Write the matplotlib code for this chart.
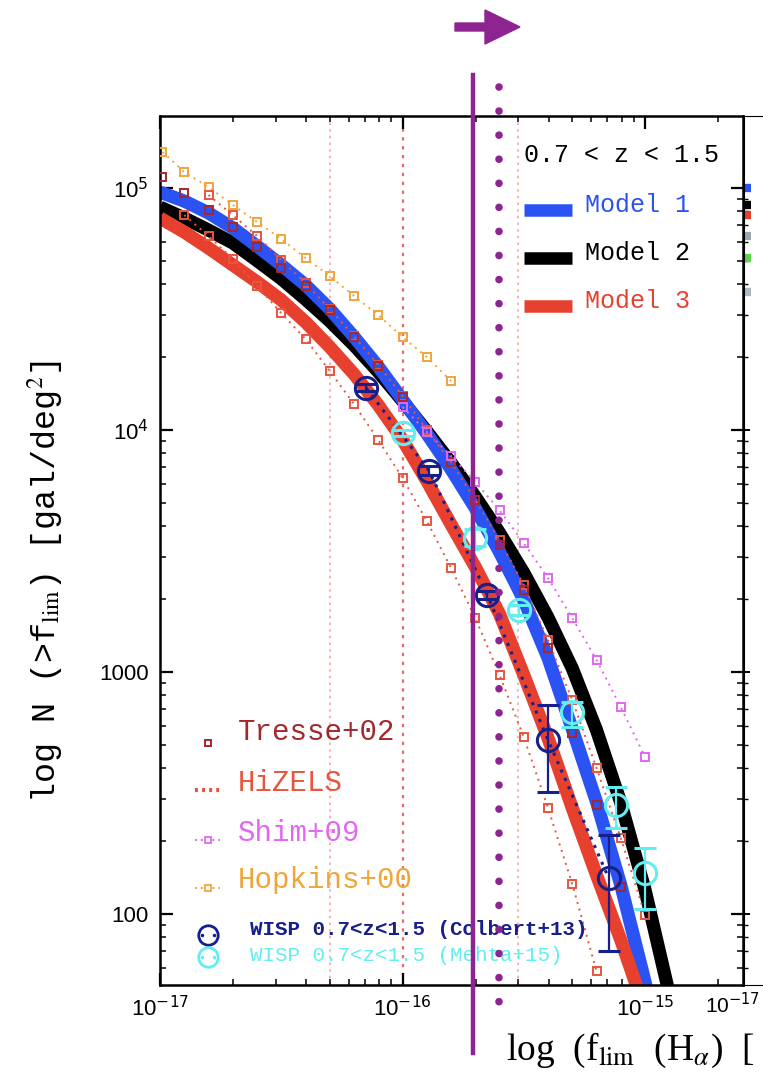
import numpy as np
import matplotlib
matplotlib.use("Agg")
import matplotlib.pyplot as plt
import matplotlib.patches as mpatches
from matplotlib.transforms import blended_transform_factory

plt.rcParams['font.family'] = ['Liberation Sans', 'DejaVu Sans']

# ---- data (log10 flux limit, log10 N(>f)) ----
model_logf = [-17.0, -16.9, -16.8, -16.7, -16.6, -16.5, -16.4, -16.3, -16.2, -16.1, -16.0,
              -15.9, -15.8, -15.7, -15.6, -15.5, -15.4, -15.3, -15.2, -15.1, -15.0, -14.9]
model1_logn = [4.983, 4.946, 4.897, 4.835, 4.760, 4.682, 4.599, 4.500, 4.385, 4.262, 4.125,
               3.985, 3.838, 3.677, 3.496, 3.298, 3.058, 2.764, 2.463, 2.12, 1.72, 1.25]
model2_logn = [4.921, 4.876, 4.826, 4.773, 4.700, 4.625, 4.540, 4.450, 4.350, 4.240, 4.120,
               3.995, 3.865, 3.725, 3.575, 3.410, 3.225, 3.015, 2.760, 2.460, 2.100, 1.67]
model3_logn = [4.876, 4.818, 4.752, 4.682, 4.612, 4.537, 4.446, 4.343, 4.231, 4.103, 3.960,
               3.790, 3.610, 3.434, 3.240, 2.988, 2.727, 2.438, 2.161, 1.893, 1.60, 1.30]

hopkins_logf = [-16.99, -16.9, -16.8, -16.7, -16.6, -16.5, -16.4, -16.3, -16.2, -16.1, -16.0,
                -15.9, -15.8]
hopkins_logn = [5.149, 5.066, 5.004, 4.930, 4.860, 4.789, 4.711, 4.636, 4.554, 4.475, 4.384,
                4.302, 4.202]

tresse_logf = [-16.99, -16.9, -16.8, -16.7, -16.6, -16.5, -16.4, -16.3, -16.2, -16.1, -16.0,
               -15.9, -15.8, -15.7, -15.6, -15.5, -15.4, -15.3, -15.2, -15.1]
tresse_logn = [5.045, 4.979, 4.909, 4.839, 4.756, 4.669, 4.595, 4.496, 4.384, 4.264, 4.136,
               3.992, 3.868, 3.711, 3.525, 3.339, 3.099, 2.748, 2.450, 2.112]

hizels_a_logf = [-16.8, -16.7, -16.6, -16.5, -16.4, -16.3, -16.2, -16.1, -16.0, -15.9,
                 -15.8, -15.7, -15.6, -15.5, -15.4, -15.3, -15.2, -15.1, -15.0]
hizels_a_logn = [4.971, 4.888, 4.802, 4.702, 4.607, 4.500, 4.388, 4.269, 4.140, 4.000,
                 3.868, 3.711, 3.545, 3.360, 3.132, 2.884, 2.603, 2.314, 1.996]

hizels_b_logf = [-16.9, -16.8, -16.7, -16.6, -16.5, -16.4, -16.3, -16.2, -16.1, -16.0,
                 -15.9, -15.8, -15.7, -15.6, -15.5, -15.4, -15.3, -15.2]
hizels_b_logn = [4.888, 4.802, 4.707, 4.595, 4.483, 4.376, 4.244, 4.107, 3.959, 3.802,
                 3.624, 3.430, 3.223, 2.988, 2.731, 2.438, 2.124, 1.764]

shim_logf = [-16.0, -15.9, -15.8, -15.7, -15.6, -15.5, -15.4, -15.3, -15.2, -15.1, -15.0]
shim_logn = [4.095, 3.992, 3.893, 3.785, 3.669, 3.533, 3.388, 3.223, 3.050, 2.855, 2.649]

colbert_logf = [-16.15, -15.89, -15.65, -15.40, -15.15]
colbert_logn = [4.174, 3.831, 3.318, 2.719, 2.149]
colbert_lo = [4.160, 3.815, 3.300, 2.504, 1.847]
colbert_hi = [4.190, 3.850, 3.335, 2.864, 2.326]

mehta_logf = [-16.0, -15.70, -15.52, -15.30, -15.12, -15.0]
mehta_logn = [3.988, 3.554, 3.256, 2.835, 2.450, 2.169]
mehta_lo = [3.975, 3.520, 3.235, 2.773, 2.355, 2.021]
mehta_hi = [4.000, 3.590, 3.275, 2.876, 2.525, 2.273]

# first values of the curves in the neighbouring (cropped) panel
nb_logn = [5.00, 4.93, 4.89, 4.80, 4.71, 4.57]
nb_colors = ['#2b52f2', 'black', '#e8402f', '#9aa6b4', '#5fd34a', '#b0b8c0']

vlines_faint = [5e-17, 3e-16]
vline_strong = 1e-16
cut_solid = 1.95e-16
cut_dotted = 2.5e-16

C_BLUE = '#2b52f2'
C_RED = '#e8402f'
C_TRESSE = '#a3282e'
C_HIZELS = '#e8553f'
C_SHIM = '#e068f0'
C_HOP = '#f0a53a'
C_NAVY = '#17208a'
C_CYAN = '#62eef0'
C_PURP = '#8e2490'

XLIM = (1e-17, 10 ** -14.596)
YLIM = (10 ** 1.7066, 10 ** 5.2975)


def p(v):
    return 10 ** np.asarray(v)


fig = plt.figure(figsize=(7.63, 10.74), dpi=100)

# neighbouring panel, only its left edge is inside the picture
nb = fig.add_axes([744 / 763, 1 - 985 / 1074, 583 / 763, 869 / 1074])
nb.set_xscale('log')
nb.set_yscale('log')
nb.set_xlim(XLIM)
nb.set_ylim(YLIM)
for yv, cc in zip(nb_logn, nb_colors):
    nb.plot(p([-17.0, -16.97]), p([yv, yv]), color=cc, lw=6, solid_capstyle='butt')
nb.tick_params(which='both', direction='in', labelleft=False, labelbottom=False)
nb.tick_params(which='major', length=4, width=1.4)
nb.tick_params(which='minor', length=3, width=1.0)

ax = fig.add_axes([160 / 763, 1 - 985 / 1074, 583 / 763, 869 / 1074])
ax.set_xscale('log')
ax.set_yscale('log')
ax.set_xlim(XLIM)
ax.set_ylim(YLIM)

# vertical reference lines
for v in vlines_faint:
    ax.axvline(v, color='#f5a6a6', lw=1.2, ls=(0, (1.5, 2.5)), zorder=1)
ax.axvline(vline_strong, color='#e86a6a', lw=1.6, ls=(0, (1.5, 2.5)), zorder=1)

# model curves
ax.plot(p(model_logf), p(model2_logn), color='black', lw=9.5, zorder=2, solid_capstyle='butt')
ax.plot(p(model_logf), p(model1_logn), color=C_BLUE, lw=9.5, zorder=2, solid_capstyle='butt')
ax.plot(p(model_logf), p(model3_logn), color=C_RED, lw=9.5, zorder=2, solid_capstyle='butt')

# literature data
sq = dict(marker='s', ms=6, mfc='none', mew=1.4)
dot = (0, (1, 2.5))
ax.plot(p(hopkins_logf), p(hopkins_logn), color=C_HOP, ls=dot, lw=1.4, zorder=3, **sq)
ax.plot(p(hizels_a_logf), p(hizels_a_logn), color=C_HIZELS, ls=dot, lw=1.4, zorder=3, **sq)
ax.plot(p(hizels_b_logf), p(hizels_b_logn), color=C_HIZELS, ls=dot, lw=1.4, zorder=3, **sq)
ax.plot(p(tresse_logf), p(tresse_logn), color=C_TRESSE, ls='none', zorder=3, **sq)
ax.plot(p(shim_logf), p(shim_logn), color=C_SHIM, ls=dot, lw=1.4, zorder=3, **sq)

# WISP points
ax.plot(p(colbert_logf), p(colbert_logn), color=C_NAVY, ls=(0, (1, 2)), lw=2.2, zorder=4)
cn = p(colbert_logn)
ax.errorbar(p(colbert_logf), cn, yerr=[cn - p(colbert_lo), p(colbert_hi) - cn],
            fmt='o', ms=16, mfc='none', mec=C_NAVY, mew=2.2, ecolor=C_NAVY,
            elinewidth=1.6, capsize=8, capthick=1.6, zorder=5)
mn = p(mehta_logn)
ax.errorbar(p(mehta_logf), mn, yerr=[mn - p(mehta_lo), p(mehta_hi) - mn],
            fmt='o', ms=16, mfc='none', mec=C_CYAN, mew=2.2, ecolor=C_CYAN,
            elinewidth=1.6, capsize=8, capthick=1.6, zorder=5)

# axes styling
for s in ax.spines.values():
    s.set_linewidth(1.8)
ax.tick_params(which='both', direction='in', top=True, right=True, labelsize=16)
ax.tick_params(which='major', length=9, width=1.6, pad=8)
ax.tick_params(which='minor', length=4.5, width=1.1)
ax.set_xticks([1e-17, 1e-16, 1e-15], ['10$^{-17}$', '10$^{-16}$', '10$^{-15}$'])
ax.set_yticks([1e2, 1e3, 1e4, 1e5], ['100', '1000', '10$^4$', '10$^5$'])
ax.tick_params(axis='x', which='minor', labelbottom=False)
ax.tick_params(axis='y', which='minor', labelleft=False)
for lab in ax.get_xticklabels() + ax.get_yticklabels():
    lab.set_math_fontfamily('dejavusans')

# left-bottom legend (drawn by hand)
T = ax.transAxes
mono = ['Liberation Mono', 'DejaVu Sans Mono']
lf = dict(family=mono, fontsize=21, va='center', transform=T)
ax.plot([0.0823], [0.2785], color=C_TRESSE, transform=T, marker='s', ms=5, mfc='none', mew=1.4)
ax.text(0.134, 0.2911, 'Tresse+02', color=C_TRESSE, **lf)
ax.plot([0.060, 0.103], [0.2244, 0.2244], color=C_HIZELS, lw=3, ls=(0, (0.7, 1.0)), transform=T)
ax.text(0.134, 0.2325, 'HiZELS', color=C_HIZELS, **lf)
ax.plot([0.060, 0.103], [0.1669, 0.1669], color=C_SHIM, lw=1.4, ls=(0, (1, 2)), transform=T)
ax.plot([0.0823], [0.1669], color=C_SHIM, transform=T, marker='s', ms=5, mfc='white', mew=1.3)
ax.text(0.134, 0.1749, 'Shim+09', color=C_SHIM, **lf)
ax.plot([0.060, 0.103], [0.1116, 0.1116], color=C_HOP, lw=1.4, ls=(0, (1, 2)), transform=T)
ax.plot([0.0823], [0.1116], color=C_HOP, transform=T, marker='s', ms=5, mfc='white', mew=1.3)
ax.text(0.134, 0.1208, 'Hopkins+00', color=C_HOP, **lf)
wf = dict(family=mono, fontsize=15, fontweight='bold', va='center', transform=T)
for yy, cc in [(0.0575, C_NAVY), (0.0322, C_CYAN)]:
    ax.plot([0.0823], [yy], color=cc, transform=T, marker='o', ms=14, mfc='none', mew=2)
    ax.plot([0.0723, 0.0923], [yy, yy], color=cc, transform=T, ls='none', marker='.', ms=3)
ax.text(0.154, 0.0633, 'WISP 0.7<z<1.5 (Colbert+13)', color=C_NAVY, **wf)
wf['fontweight'] = 'normal'
ax.text(0.154, 0.0345, 'WISP 0.7<z<1.5 (Mehta+15)', color=C_CYAN, **wf)

# model legend (top right)
mf = dict(family=mono, fontsize=18, va='center', transform=T)
ax.text(0.6244, 0.9551, '0.7 < z < 1.5', color='black', **mf)
for yy, cc, name in [(0.8918, C_BLUE, 'Model 1'), (0.8366, 'black', 'Model 2'),
                     (0.7814, C_RED, 'Model 3')]:
    ax.plot([0.6244, 0.7067], [yy, yy], color=cc, lw=9, solid_capstyle='butt', transform=T)
    ax.text(0.729, yy + 0.0058, name, color=cc, **mf)

# purple flux-limit overlay
bt = blended_transform_factory(ax.transData, ax.transAxes)
ax.plot([cut_solid, cut_solid], [1.0472, -0.0783], color=C_PURP, lw=3.2,
        transform=bt, clip_on=False, zorder=6)
ax.plot([cut_dotted, cut_dotted], [1.0334, -0.0426], color=C_PURP, lw=5.5,
        ls=(0, (0.001, 3.15)), dash_capstyle='round', transform=bt, clip_on=False, zorder=6)
fig.patches.append(mpatches.FancyArrow(4.55, 10.47, 0.65, 0, width=0.08, head_width=0.34,
                                       head_length=0.35, length_includes_head=True,
                                       color=C_PURP, transform=fig.dpi_scale_trans, figure=fig))

# axis titles (the x title is cropped at the right in the original)
fig.text(506 / 763, 1 - 1050 / 1074, r'log  (f$_{\rm lim}$  (H$_\alpha$)  [',
         family=['Liberation Serif', 'DejaVu Serif'], math_fontfamily='stix', fontsize=27,
         ha='left', va='center')
fig.text(45 / 763, 1 - 582 / 1074, r'log N (>f$_{\rm lim}$) [gal/deg$^2$]',
         family=mono, math_fontfamily='stix', fontsize=24,
         rotation=90, ha='center', va='center')
# neighbouring panel's first tick label, kept inside the picture
fig.text(760 / 763, 1 - 1005 / 1074, '10$^{-17}$', fontsize=15, ha='right', va='center',
         math_fontfamily='dejavusans')

fig.savefig('out.png', dpi=100)
